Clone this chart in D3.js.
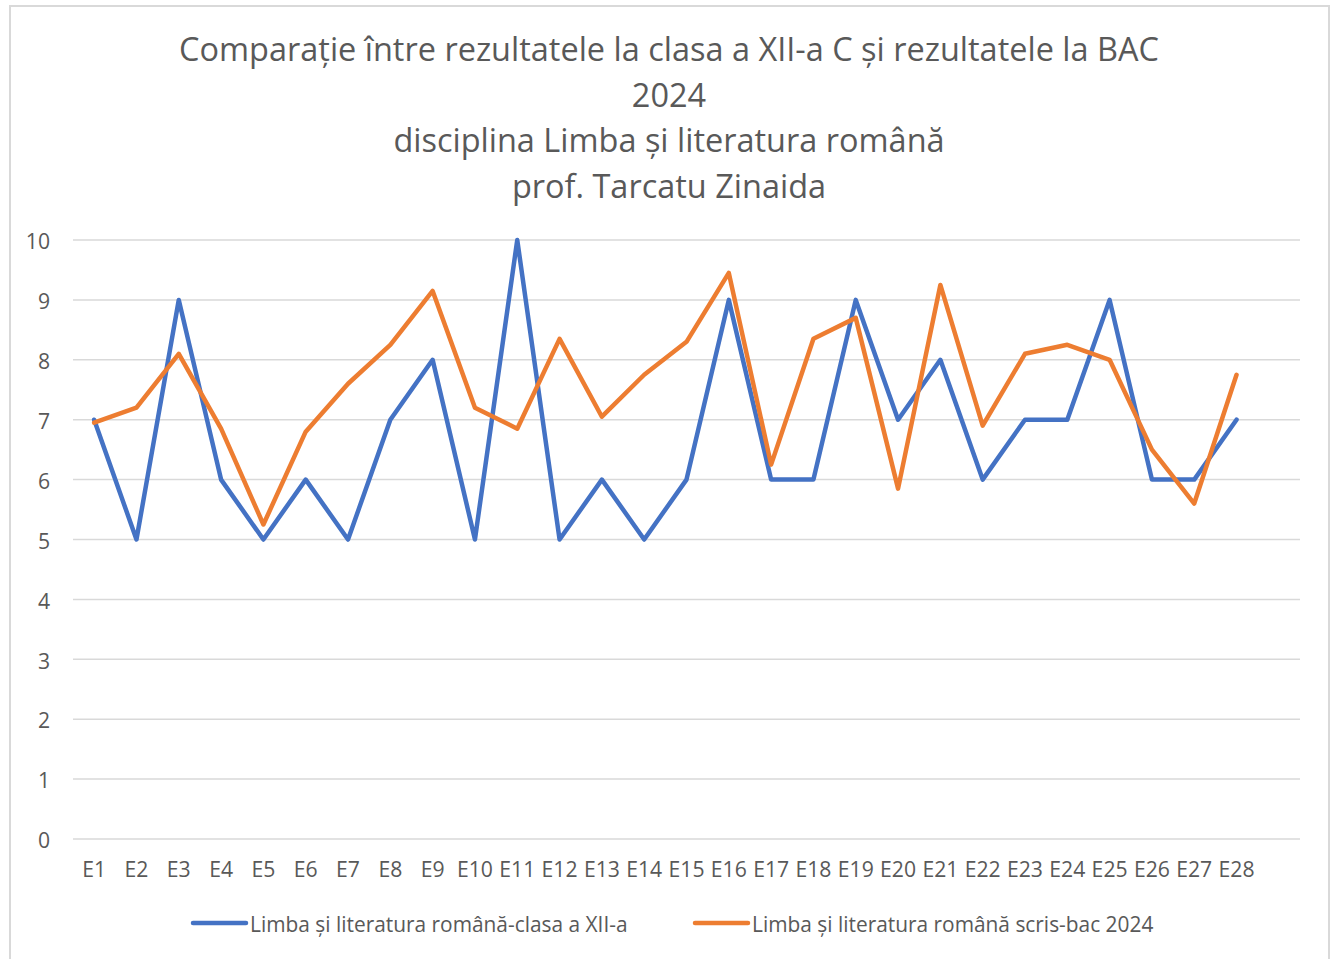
<!DOCTYPE html>
<html><head><meta charset="utf-8">
<script src="https://cdn.jsdelivr.net/npm/d3@7"></script>
<style>body{margin:0;background:#fff}svg{display:block}</style>
</head><body>
<svg id="c" width="1331" height="959"></svg>
<script>
const categories = ["E1","E2","E3","E4","E5","E6","E7","E8","E9","E10","E11","E12","E13","E14","E15","E16","E17","E18","E19","E20","E21","E22","E23","E24","E25","E26","E27","E28",""];
const clasaValues = [7,5,9,6,5,6,5,7,8,5,10,5,6,5,6,9,6,6,9,7,8,6,7,7,9,6,6,7];
const bacValues = [6.95,7.2,8.1,6.85,5.25,6.8,7.6,8.25,9.15,7.2,6.85,8.35,7.05,7.75,8.3,9.45,6.25,8.35,8.7,5.85,9.25,6.9,8.1,8.25,8.0,6.5,5.6,7.75];
const yTicks = [0,1,2,3,4,5,6,7,8,9,10];
const seriesNames = ["Limba și literatura română-clasa a XII-a","Limba și literatura română scris-bac 2024"];
const titleLines = ["Comparație între rezultatele la clasa a XII-a C și rezultatele la BAC","2024","disciplina Limba și literatura română","prof. Tarcatu Zinaida"];
const colors = ["#4472C4","#ED7D31"];

const svg = d3.select("#c");
const font = "'Open Sans', sans-serif";
const textColor = "#595959";

function fit(sel, base, target){
  const w = sel.node().getComputedTextLength();
  return base*target/w;
}

// border
svg.append("rect").attr("x",10).attr("y",6).attr("width",1319).attr("height",970)
  .attr("fill","#fff").attr("stroke","#D9D9D9").attr("stroke-width",2);

const x = d3.scaleBand().domain(categories).range([73,1300]);
const y = d3.scaleLinear().domain([0,10]).range([839,240]);

// gridlines
svg.append("g").selectAll("line").data(yTicks).join("line")
  .attr("x1",73).attr("x2",1300).attr("y1",d=>y(d)).attr("y2",d=>y(d))
  .attr("stroke","#D9D9D9").attr("stroke-width",1.5);

// measure tick font size: "E10" ~36px wide
const probe = svg.append("text").attr("font-family",font).attr("font-size",20).text("E10");
const tickFs = fit(probe,20,36);
probe.remove();

// y axis labels
const yAxis = svg.append("g").attr("transform","translate(50,2)")
  .call(d3.axisLeft(y).tickValues(yTicks).tickSize(0).tickPadding(0));
yAxis.select(".domain").remove();
yAxis.selectAll("text").attr("font-family",font).attr("font-size",tickFs).attr("fill",textColor);

// x axis labels
const xAxis = svg.append("g").attr("transform","translate(0,862)")
  .call(d3.axisBottom(x).tickSize(0).tickPadding(0));
xAxis.select(".domain").remove();
xAxis.selectAll("text").attr("font-family",font).attr("font-size",tickFs).attr("fill",textColor);

// lines
const line = d3.line().x((d,i)=>x(categories[i])+x.bandwidth()/2).y(d=>y(d));
[clasaValues,bacValues].forEach((vals,k)=>{
  svg.append("path").datum(vals).attr("d",line).attr("fill","none")
    .attr("stroke",colors[k]).attr("stroke-width",4.5)
    .attr("stroke-linejoin","round").attr("stroke-linecap","round");
});

// title
const tg = svg.append("g");
const tys = [50,96,141,187];
titleLines.forEach((t,i)=>{
  tg.append("text").attr("x",669).attr("y",tys[i]).attr("dy","0.35em")
    .attr("text-anchor","middle").attr("font-family",font).attr("font-size",30)
    .attr("fill",textColor).text(t);
});
tg.selectAll("text").attr("font-size",fit(tg.select("text"),30,980));

// legend
const legX = [193,695];
const legTexts = [];
seriesNames.forEach((n,k)=>{
  svg.append("line").attr("x1",legX[k]).attr("x2",legX[k]+53).attr("y1",923).attr("y2",923)
    .attr("stroke",colors[k]).attr("stroke-width",4.5).attr("stroke-linecap","round");
  legTexts.push(svg.append("text").attr("x",legX[k]+57).attr("y",925).attr("dy","0.35em")
    .attr("font-family",font).attr("font-size",19).attr("fill",textColor).text(n));
});
const legFs = fit(legTexts[0],19,378);
legTexts.forEach(t=>t.attr("font-size",legFs));
</script>
</body></html>
